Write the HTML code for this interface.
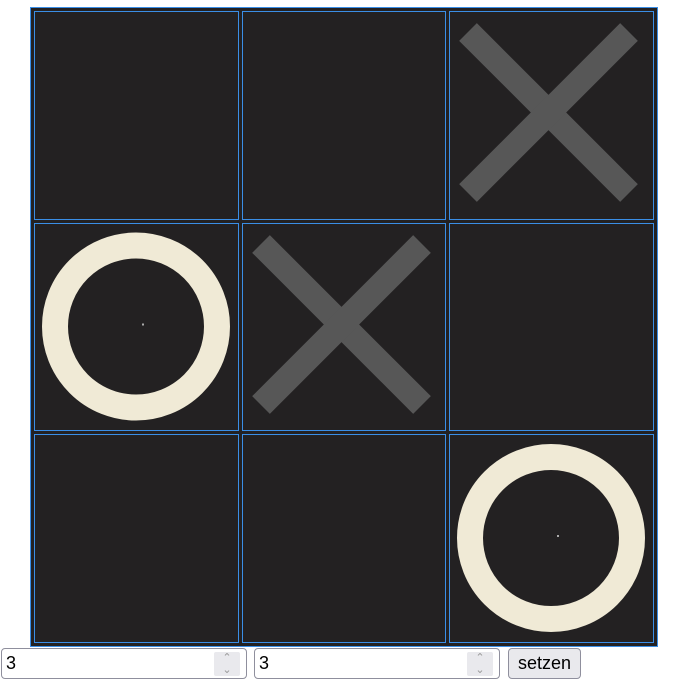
<!DOCTYPE html>
<html><head><meta charset="utf-8"><style>
body{margin:0;width:691px;height:690px;background:#fff;position:relative;overflow:hidden;font-family:"Liberation Sans",sans-serif}
#board{position:absolute;left:0;top:0}
.inp{position:absolute;top:648px;height:31px;box-sizing:border-box;border:1px solid #8f8f9d;border-radius:4px;background:#fff;font-size:18px;line-height:29px;padding-left:4px;color:#000}
.spin{position:absolute;top:3px;right:6px;width:26px;height:24px;background:#e9e9ed;border-radius:2px}
.spin span{display:block;height:12px;text-align:center;font-size:11px;line-height:12px;color:#999}
.btn{position:absolute;left:508px;top:648px;width:73px;height:31px;box-sizing:border-box;border:1px solid #8f8f9d;border-radius:4px;background:#e9e9ed;font-size:18px;line-height:29px;text-align:center;color:#000}
</style></head><body>
<svg id="board" width="691" height="648">
<rect x="30.5" y="7.5" width="627" height="639" fill="#232122" stroke="#3a8ee6" stroke-width="1"/>
<g id="cells"></g>
</svg>
<div class="inp" style="left:1px;width:246px">3<div class="spin"><span>&#8963;</span><span>&#8964;</span></div></div>
<div class="inp" style="left:254px;width:246px">3<div class="spin"><span>&#8963;</span><span>&#8964;</span></div></div>
<div class="btn">setzen</div>
<script>
const marks=["","","X","O","X","","","","O"];
const colX=[34,242,449];
const rowY=[11,223,434];
const colW=[204,203,204];
const rowH=[208,207,208];
const g=document.getElementById('cells');
const NS='http://www.w3.org/2000/svg';
function mk(t,a){const e=document.createElementNS(NS,t);for(const k in a)e.setAttribute(k,a[k]);g.appendChild(e);return e;}
marks.forEach((m,i)=>{
  const r=Math.floor(i/3),c=i%3;
  const x=colX[c],y=rowY[r],w=colW[c],h=rowH[r];
  const cell=mk('rect',{x:x+0.5,y:y+0.5,width:w,height:h,fill:'none',stroke:'#3a8ee6','stroke-width':1});
  
  
  if(m==='X'){
    const a=mk('line',{x1:x+19,y1:y+21,x2:x+180,y2:y+182,stroke:'#575757','stroke-width':25});
    
    
    const b=mk('line',{x1:x+180,y1:y+21,x2:x+19,y2:y+182,stroke:'#575757','stroke-width':25});
    
    
  } else if(m==='O'){
    const cx=x+w/2,cy=y+h/2;
    const o=mk('circle',{cx:cx,cy:cy,r:81,fill:'none',stroke:'#f0ead6','stroke-width':26});
    
    
    const d=mk('rect',{x:cx+6,y:cy-3,width:2,height:2,fill:'#aaa'});
    
    
  }
});
</script>
</body></html>
